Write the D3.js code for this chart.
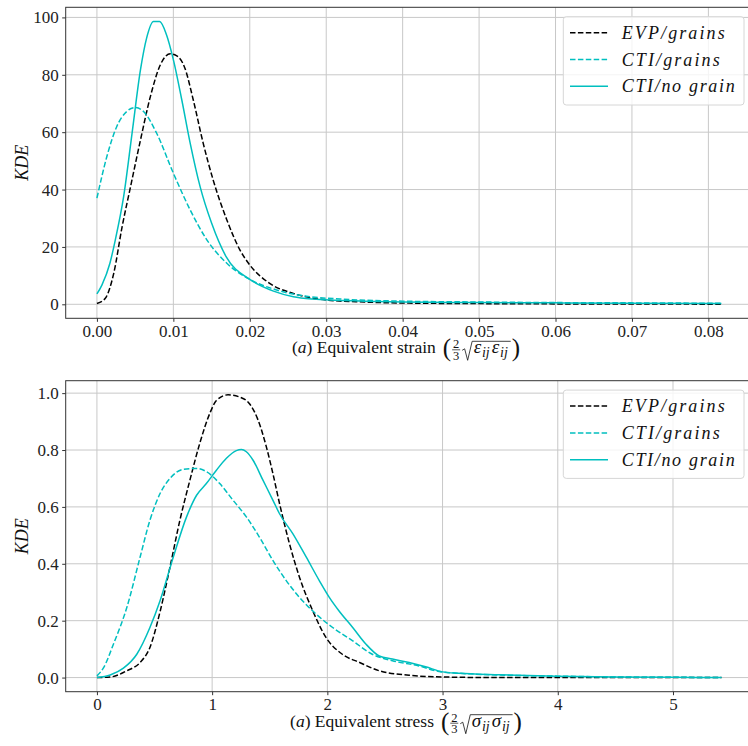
<!DOCTYPE html>
<html>
<head>
<meta charset="utf-8">
<script src="https://cdn.jsdelivr.net/npm/d3@7/dist/d3.min.js"></script>
<style>
  body { margin: 0; background: #fff; }
  svg { display: block; }
  svg text { font-family: "Liberation Serif", "Tinos", "Times New Roman", "DejaVu Serif", serif; }
</style>
</head>
<body>
<div id="chart"></div>
<script>
// ---- data (KDE curves) ----
const seriesNames = ['EVP/grains', 'CTI/grains', 'CTI/no grain'];

// top panel: equivalent strain
const evpStrainX = [0, 0.0011, 0.0022, 0.0033, 0.0044, 0.0057, 0.007, 0.0083, 0.0096, 0.0104, 0.0115, 0.0126, 0.0139, 0.0152, 0.017, 0.0187, 0.02, 0.0226, 0.0257, 0.03, 0.035, 0.04, 0.05, 0.06, 0.07, 0.0817];
const evpStrainY = [0.3, 2.1, 10.8, 27.1, 41, 57.3, 72.5, 83.5, 87.3, 86.7, 82.4, 71.3, 56.2, 43.4, 29.4, 19, 13.7, 7.3, 3.8, 1.5, 0.8, 0.45, 0.25, 0.15, 0.1, 0.05];

const ctiGrainStrainX = [0, 0.0013, 0.0026, 0.0039, 0.005, 0.0061, 0.0078, 0.01, 0.0122, 0.0144, 0.017, 0.02, 0.0235, 0.0279, 0.0318, 0.04, 0.05, 0.06, 0.07, 0.0817];
const ctiGrainStrainY = [37, 51.5, 62, 67.2, 68.6, 67.2, 59.7, 45.7, 32.9, 22.4, 14.3, 8.7, 5, 2.65, 1.85, 1.1, 0.8, 0.6, 0.5, 0.35];

const ctiNoGrainStrainX = [0, 0.00065, 0.0017, 0.0024, 0.0035, 0.0046, 0.0057, 0.0065, 0.0074, 0.0082, 0.0091, 0.01, 0.0111, 0.0122, 0.0135, 0.015, 0.0169, 0.02, 0.0231, 0.0257, 0.0282, 0.035, 0.04, 0.05, 0.06, 0.07, 0.0817];
const ctiNoGrainStrainY = [3.6, 6.7, 14.3, 22.4, 37.6, 59.7, 81.8, 92.8, 98.6, 98.6, 94, 85.3, 71.3, 56.2, 41, 28.3, 16.6, 8.7, 4.6, 2.65, 1.85, 1.1, 0.8, 0.6, 0.5, 0.4, 0.3];

// bottom panel: equivalent stress
const evpStressX = [0, 0.115, 0.26, 0.375, 0.46, 0.55, 0.634, 0.72, 0.807, 0.893, 0.98, 1.037, 1.138, 1.24, 1.326, 1.398, 1.47, 1.527, 1.585, 1.671, 1.758, 1.873, 1.988, 2.13, 2.28, 2.45, 2.71, 3.0, 3.5, 4.0, 4.5, 5.0, 5.42];
const evpStressY = [0, 0.002, 0.024, 0.053, 0.106, 0.235, 0.388, 0.553, 0.694, 0.824, 0.929, 0.974, 0.994, 0.986, 0.962, 0.906, 0.812, 0.718, 0.612, 0.471, 0.353, 0.235, 0.141, 0.082, 0.053, 0.024, 0.008, 0.002, 0, 0, 0, 0, 0];

const ctiGrainStressX = [0, 0.058, 0.144, 0.26, 0.375, 0.46, 0.548, 0.634, 0.75, 0.865, 0.95, 1.066, 1.18, 1.297, 1.41, 1.527, 1.643, 1.758, 1.9, 2.046, 2.22, 2.39, 2.565, 2.795, 2.97, 3.15, 3.5, 4.0, 4.5, 5.0, 5.42];
const ctiGrainStressY = [0.006, 0.035, 0.118, 0.247, 0.424, 0.553, 0.647, 0.7, 0.732, 0.735, 0.724, 0.682, 0.624, 0.565, 0.494, 0.412, 0.341, 0.282, 0.224, 0.176, 0.129, 0.082, 0.059, 0.041, 0.021, 0.015, 0.009, 0.005, 0.002, 0.001, 0];

const ctiNoGrainStressX = [0, 0.115, 0.23, 0.346, 0.46, 0.548, 0.663, 0.778, 0.865, 0.95, 1.037, 1.124, 1.21, 1.254, 1.297, 1.354, 1.441, 1.527, 1.585, 1.7, 1.816, 1.93, 2.017, 2.1, 2.22, 2.334, 2.45, 2.565, 2.71, 2.853, 3.0, 3.14, 3.5, 4.0, 4.5, 5.0, 5.42];
const ctiNoGrainStressY = [0, 0.009, 0.033, 0.082, 0.176, 0.27, 0.424, 0.565, 0.641, 0.682, 0.729, 0.771, 0.798, 0.802, 0.794, 0.765, 0.694, 0.624, 0.576, 0.506, 0.424, 0.341, 0.282, 0.235, 0.176, 0.118, 0.076, 0.065, 0.053, 0.038, 0.02, 0.015, 0.01, 0.005, 0.002, 0.001, 0];

const strainTicks = [0, 0.01, 0.02, 0.03, 0.04, 0.05, 0.06, 0.07, 0.08];
const kdeStrainTicks = [0, 20, 40, 60, 80, 100];
const stressTicks = [0, 1, 2, 3, 4, 5];
const kdeStressTicks = [0, 0.2, 0.4, 0.6, 0.8, 1.0];

const width = 748;
const height = 746;
const serif = '"Liberation Serif", "Tinos", "Times New Roman", "DejaVu Serif", serif';
const cyan = '#00bfbf';
const styles = [
  { color: '#000', dash: '5.5,2.4' },
  { color: cyan, dash: '5.5,2.4' },
  { color: cyan, dash: null },
];

const svg = d3
  .select('#chart')
  .append('svg')
  .attr('width', width)
  .attr('height', height)
  .style('font-family', serif);

// x label: "(a) Equivalent ... (2/3 sqrt(s_ij s_ij))" built from pieces
function xLabel(g, cx, by, word, sym) {
  const lab = g.append('g').attr('fill', '#111');
  const t1 = lab.append('text').attr('x', 0).attr('y', by).style('font-size', '17.5px');
  t1.append('tspan').text('(');
  t1.append('tspan').style('font-style', 'italic').text('a');
  t1.append('tspan').text(') Equivalent ' + word);
  let x = t1.node().getComputedTextLength() + 7;

  const lp = lab.append('text').attr('x', x).attr('y', by + 3).style('font-size', '25px').text('(');
  x += lp.node().getComputedTextLength() + 1;

  // 2/3 fraction
  lab.append('text').attr('x', x + 4).attr('y', by - 5).style('font-size', '12.5px').attr('text-anchor', 'middle').text('2');
  lab.append('line').attr('x1', x).attr('x2', x + 8).attr('y1', by - 3.5).attr('y2', by - 3.5).attr('stroke', '#111').attr('stroke-width', 0.7);
  lab.append('text').attr('x', x + 4).attr('y', by + 6.5).style('font-size', '12.5px').attr('text-anchor', 'middle').text('3');
  x += 10;

  // radicand
  const rx = x + 10;
  const rad = lab.append('text').attr('x', rx + 1.5).attr('y', by).style('font-size', '19px').style('font-style', 'italic');
  rad.append('tspan').text(sym);
  rad.append('tspan').style('font-size', '14px').attr('dy', 4).attr('dx', 0.8).text('ij');
  rad.append('tspan').attr('dy', -4).attr('dx', 2).text(sym);
  rad.append('tspan').style('font-size', '14px').attr('dy', 4).attr('dx', 0.8).text('ij');
  const rw = rad.node().getComputedTextLength() + 8;
  lab
    .append('path')
    .attr('d', `M${x},${by - 3} L${x + 2.5},${by - 4.5} L${x + 5.5},${by + 7} L${x + 10},${by - 12} L${rx + rw},${by - 12}`)
    .attr('fill', 'none')
    .attr('stroke', '#111')
    .attr('stroke-width', 0.8);
  x = rx + rw + 1;
  const rp = lab.append('text').attr('x', x).attr('y', by + 3).style('font-size', '25px').text(')');
  x += rp.node().getComputedTextLength();
  lab.attr('transform', `translate(${cx - x / 2},0)`);
}

function panel(p) {
  const left = 65.7;
  const right = 752.6;
  const g = svg.append('g');

  const allX = p.series.flatMap(s => s.x);
  const allY = p.series.flatMap(s => s.y);
  const [x0, x1] = d3.extent(allX);
  const [y0, y1] = d3.extent(allY);
  const xPad = (x1 - x0) * 0.05;
  const yPad = (y1 - y0) * 0.05;
  const x = d3.scaleLinear().domain([x0 - xPad, x1 + xPad]).range([left, right]);
  const y = d3.scaleLinear().domain([y0 - yPad, y1 + yPad]).range([p.bottom, p.top]);

  // grid
  g.append('g')
    .selectAll('line')
    .data(p.xTicks)
    .join('line')
    .attr('x1', d => x(d))
    .attr('x2', d => x(d))
    .attr('y1', p.top)
    .attr('y2', p.bottom)
    .attr('stroke', '#c8c8c8')
    .attr('stroke-width', 1);
  g.append('g')
    .selectAll('line')
    .data(p.yTicks)
    .join('line')
    .attr('x1', left)
    .attr('x2', right)
    .attr('y1', d => y(d))
    .attr('y2', d => y(d))
    .attr('stroke', '#c8c8c8')
    .attr('stroke-width', 1);

  // curves
  const line = d3
    .line()
    .x(d => x(d[0]))
    .y(d => y(d[1]))
    .curve(d3.curveMonotoneX);
  p.series.forEach((s, i) => {
    g.append('path')
      .attr('d', line(d3.zip(s.x, s.y)))
      .attr('fill', 'none')
      .attr('stroke', styles[i].color)
      .attr('stroke-width', 1.5)
      .attr('stroke-dasharray', styles[i].dash);
  });

  // axes
  const xAxis = d3.axisBottom(x).tickValues(p.xTicks).tickFormat(p.xFmt).tickSize(3.5).tickPadding(3);
  const yAxis = d3.axisLeft(y).tickValues(p.yTicks).tickFormat(p.yFmt).tickSize(3.5).tickPadding(3.5);
  const ax = g.append('g').attr('transform', `translate(0,${p.bottom})`).call(xAxis);
  const ay = g.append('g').attr('transform', `translate(${left},0)`).call(yAxis);
  [ax, ay].forEach(a => {
    a.attr('font-family', null);
    a.select('.domain').remove();
    a.selectAll('line').attr('stroke', '#333');
    a.selectAll('text').style('font-family', serif).style('font-size', '17px').attr('fill', '#222');
  });

  g.append('rect')
    .attr('x', left)
    .attr('y', p.top)
    .attr('width', right - left)
    .attr('height', p.bottom - p.top)
    .attr('fill', 'none')
    .attr('stroke', '#333')
    .attr('stroke-width', 1);

  // labels
  xLabel(g, 406, p.bottom + 35, p.word, p.sym);
  g.append('text')
    .attr('transform', `translate(28,${(p.top + p.bottom) / 2}) rotate(-90)`)
    .attr('text-anchor', 'middle')
    .style('font-style', 'italic')
    .style('font-size', '18px')
    .attr('fill', '#111')
    .text('KDE');

  // legend
  const bx = 563.3;
  const by = p.top + 9.4;
  const leg = g.append('g');
  leg.append('rect')
    .attr('x', bx)
    .attr('y', by)
    .attr('width', 180.7)
    .attr('height', 88.3)
    .attr('rx', 3)
    .attr('fill', 'rgba(255,255,255,0.8)')
    .attr('stroke', '#d6d6d6');
  const widths = [103, 98, 113];
  seriesNames.forEach((name, i) => {
    const cy = by + 16 + i * 26.8;
    leg.append('line')
      .attr('x1', bx + 6.7)
      .attr('x2', bx + 44.7)
      .attr('y1', cy)
      .attr('y2', cy)
      .attr('stroke', styles[i].color)
      .attr('stroke-width', 1.5)
      .attr('stroke-dasharray', styles[i].dash);
    leg.append('text')
      .attr('x', bx + 58.4)
      .attr('y', cy + 6)
      .style('font-style', 'italic')
      .style('font-size', '18px')
      .attr('textLength', widths[i])
      .attr('lengthAdjust', 'spacing')
      .attr('fill', '#111')
      .text(name);
  });
}

panel({
  top: 7.3,
  bottom: 318.3,
  series: [
    { x: evpStrainX, y: evpStrainY },
    { x: ctiGrainStrainX, y: ctiGrainStrainY },
    { x: ctiNoGrainStrainX, y: ctiNoGrainStrainY },
  ],
  xTicks: strainTicks,
  yTicks: kdeStrainTicks,
  xFmt: d3.format('.2f'),
  yFmt: d3.format('d'),
  word: 'strain',
  sym: 'ε',
});

panel({
  top: 380.7,
  bottom: 691.7,
  series: [
    { x: evpStressX, y: evpStressY },
    { x: ctiGrainStressX, y: ctiGrainStressY },
    { x: ctiNoGrainStressX, y: ctiNoGrainStressY },
  ],
  xTicks: stressTicks,
  yTicks: kdeStressTicks,
  xFmt: d3.format('d'),
  yFmt: d3.format('.1f'),
  word: 'stress',
  sym: 'σ',
});
</script>
</body>
</html>
